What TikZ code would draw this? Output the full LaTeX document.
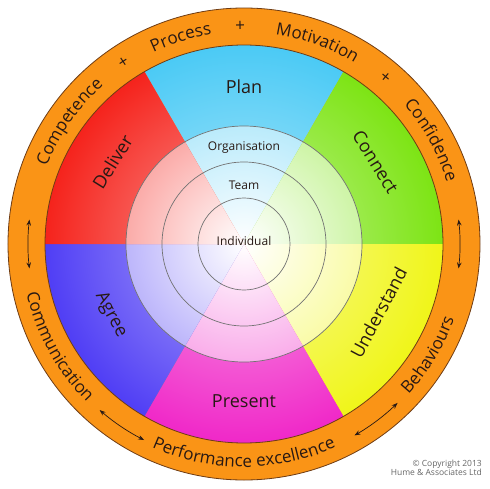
\documentclass[tikz,border=0pt]{standalone}
\usepackage{fontspec}
\setmainfont{Open Sans}
\usetikzlibrary{decorations.text, arrows.meta}
\definecolor{plancol}{RGB}{75,202,245}
\definecolor{connectcol}{RGB}{125,228,20}
\definecolor{understandcol}{RGB}{240,245,25}
\definecolor{presentcol}{RGB}{240,40,200}
\definecolor{agreecol}{RGB}{80,62,245}
\definecolor{delivercol}{RGB}{245,35,28}
\definecolor{ringcol}{RGB}{250,148,22}
\definecolor{rimline}{RGB}{110,60,20}
\definecolor{textcol}{RGB}{40,25,20}
\newcommand{\ringfont}{\fontsize{17}{17}\selectfont}
\tikzset{
    sector/.style = {font = \fontsize{18}{18}\selectfont, text = textcol, inner sep = 0pt},
    level/.style = {font = \fontsize{12}{12}\selectfont, text = textcol, inner sep = 0pt},
    plus/.style = {font = \fontsize{17}{17}\selectfont, text = textcol, inner sep = 0pt},
    ringword/.style = {decorate, decoration = {text along path, text align = center, text color = textcol, text = {#1}}},
    ringarrow/.style = {{Stealth[length = 6pt, width = 4.5pt]}-{Stealth[length = 6pt, width = 4.5pt]}, line width = 0.7pt, textcol}
}
\begin{document}
\begin{tikzpicture}[x = 1pt, y = 1pt]
            \useasboundingbox (-244,-244) rectangle (246,244);
            \draw[fill = ringcol, draw = rimline, line width = 0.8pt] (0,0) circle (236);
            % the six sectors
            \begin{scope}
                \clip (0,0) -- (60:199) arc (60:120:199) -- cycle;
                \shade[inner color = plancol!45!white, outer color = plancol] (0,0) circle (199);
                \shade[inner color = white, outer color = plancol!38!white] (0,0) circle (118);
            \end{scope}
            \begin{scope}
                \clip (0,0) -- (0:199) arc (0:60:199) -- cycle;
                \shade[inner color = connectcol!45!white, outer color = connectcol] (0,0) circle (199);
                \shade[inner color = white, outer color = connectcol!38!white] (0,0) circle (118);
            \end{scope}
            \begin{scope}
                \clip (0,0) -- (-60:199) arc (-60:0:199) -- cycle;
                \shade[inner color = understandcol!45!white, outer color = understandcol] (0,0) circle (199);
                \shade[inner color = white, outer color = understandcol!38!white] (0,0) circle (118);
            \end{scope}
            \begin{scope}
                \clip (0,0) -- (240:199) arc (240:300:199) -- cycle;
                \shade[inner color = presentcol!45!white, outer color = presentcol] (0,0) circle (199);
                \shade[inner color = white, outer color = presentcol!38!white] (0,0) circle (118);
            \end{scope}
            \begin{scope}
                \clip (0,0) -- (180:199) arc (180:240:199) -- cycle;
                \shade[inner color = agreecol!45!white, outer color = agreecol] (0,0) circle (199);
                \shade[inner color = white, outer color = agreecol!38!white] (0,0) circle (118);
            \end{scope}
            \begin{scope}
                \clip (0,0) -- (120:199) arc (120:180:199) -- cycle;
                \shade[inner color = delivercol!45!white, outer color = delivercol] (0,0) circle (199);
                \shade[inner color = white, outer color = delivercol!38!white] (0,0) circle (118);
            \end{scope}
            \draw[rimline, line width = 0.8pt] (0,0) circle (199);
            \begin{scope}[draw = black!55, line width = 0.7pt]
                \draw (0,0) circle (46);
                \draw (0,0) circle (82);
                \draw (0,0) circle (118);
            \end{scope}
            \node[level] (org) at (0,96) {Organisation};
            \node[level] (team) at (0,59) {Team};
            \node[level] (indiv) at (0,3) {Individual};
            \node[sector] (plan) at (90:157) {Plan};
            \node[sector, rotate = -58] (connect) at (32:155) {Connect};
            \node[sector, rotate = 62] (understand) at (-27:151) {Understand};
            \node[sector] (present) at (-90:157) {Present};
            \node[sector, rotate = -62] (agree) at (208:151) {Agree};
            \node[sector, rotate = 58] (deliver) at (148:155) {Deliver};
            % words on the ring
            \path[ringword = {|\ringfont|Competence}] (175:212) arc (175:115:212);
            \path[ringword = {|\ringfont|Process}] (137:212) arc (137:77:212);
            \path[ringword = {|\ringfont|Motivation}] (100:212) arc (100:40:212);
            \path[ringword = {|\ringfont|Confidence}] (59:212) arc (59:-1:212);
            \path[ringword = {|\ringfont|Behaviours}] (-61:223) arc (-61:-1:223);
            \path[ringword = {|\ringfont|Performance excellence}] (225:223) arc (225:315:223);
            \path[ringword = {|\ringfont|Communication}] (179:223) arc (179:239:223);
            \node[plus, rotate = 33.5] (plusa) at (123.5:218) {+};
            \node[plus, rotate = 1] (plusb) at (91:218) {+};
            \node[plus, rotate = -40.3] (plusc) at (49.7:218) {+};
            \draw[ringarrow] (173.5:216) arc (173.5:186.5:216);
            \draw[ringarrow] (6.5:216) arc (6.5:-6.5:216);
            \draw[ringarrow] (229:220) arc (229:243:220);
            \draw[ringarrow] (-60:221) arc (-60:-46:221);
            \node[anchor = north east, align = right, inner sep = 0pt, text = black!60, font = \fontsize{8.5}{8.5}\selectfont] (copyright) at (238,-216) {\textcopyright{} Copyright 2013\\Hume \& Associates Ltd};
        \end{tikzpicture}
\end{document}
